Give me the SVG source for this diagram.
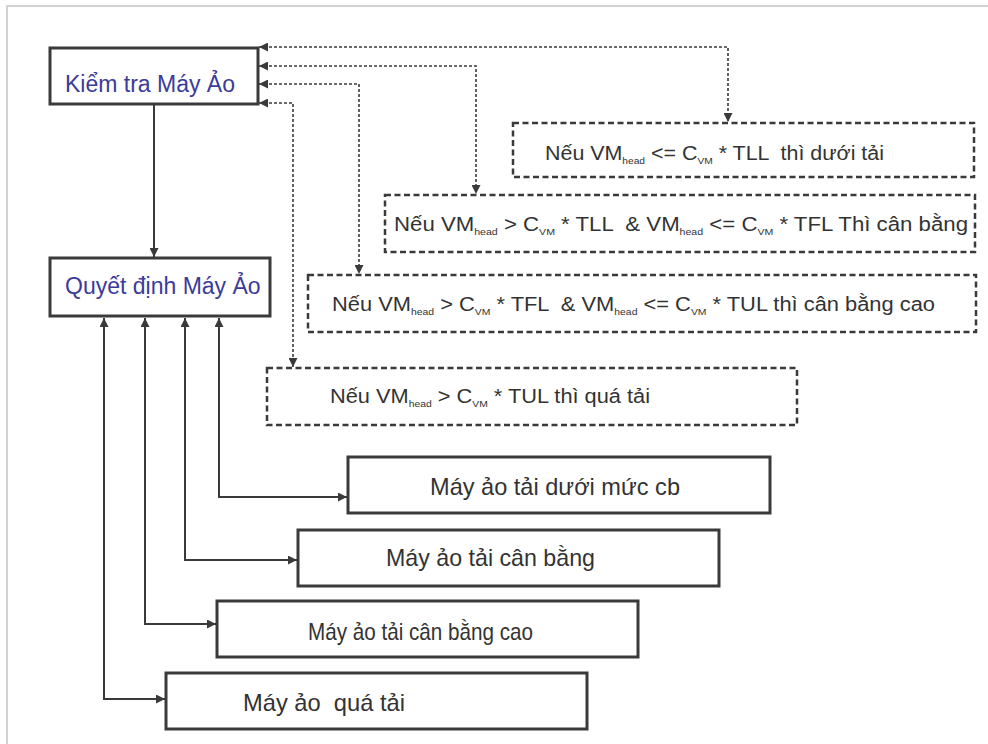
<svg xmlns="http://www.w3.org/2000/svg" width="988" height="744" viewBox="0 0 988 744">
  <style>
    .frame { fill: none; stroke: #c4c4c4; stroke-width: 1.5; }
    .main { fill: #ffffff; stroke: #3a3a3a; stroke-width: 3; }
    .cond { fill: #ffffff; stroke: #3a3a3a; stroke-width: 2.5; stroke-dasharray: 6 3.5; }
    .state { fill: #ffffff; stroke: #3a3a3a; stroke-width: 3; }
    .link { fill: none; stroke: #3a3a3a; stroke-width: 2; }
    .check { fill: none; stroke: #3a3a3a; stroke-width: 1.6; stroke-dasharray: 3 2; }
    .title { font-family: "Liberation Sans", Arial, sans-serif; font-size: 23px; fill: #3b3b9c; }
    .rule { font-family: "Liberation Sans", Arial, sans-serif; font-size: 20px; fill: #333333; white-space: pre; }
    .rule .sub { font-size: 9.5px; }
    .label { font-family: "Liberation Sans", Arial, sans-serif; font-size: 24px; fill: #333333; white-space: pre; }
  </style>
  <defs>
    <marker id="arrow" viewBox="0 0 10 10" refX="10" refY="5" markerWidth="10" markerHeight="9" markerUnits="userSpaceOnUse" orient="auto-start-reverse">
      <path d="M0,0 L10,5 L0,10 Z" fill="#3a3a3a"/>
    </marker>
  </defs>

  <rect width="988" height="744" fill="#ffffff"/>
  <path class="frame" d="M7,744 V6 H988"/>

  <!-- connectors -->
  <g id="connectors">
    <path class="link" d="M154,104 V257" marker-end="url(#arrow)"/>
    <path class="check" d="M259,47 H728 V122" marker-start="url(#arrow)" marker-end="url(#arrow)"/>
    <path class="check" d="M259,66 H476 V194" marker-start="url(#arrow)" marker-end="url(#arrow)"/>
    <path class="check" d="M259,84 H359 V274" marker-start="url(#arrow)" marker-end="url(#arrow)"/>
    <path class="check" d="M259,103 H293 V367" marker-start="url(#arrow)" marker-end="url(#arrow)"/>
    <path class="link" d="M219,318 V497 H347" marker-start="url(#arrow)" marker-end="url(#arrow)"/>
    <path class="link" d="M185,318 V560 H297" marker-start="url(#arrow)" marker-end="url(#arrow)"/>
    <path class="link" d="M145,318 V624 H216" marker-start="url(#arrow)" marker-end="url(#arrow)"/>
    <path class="link" d="M104,318 V699 H165" marker-start="url(#arrow)" marker-end="url(#arrow)"/>
  </g>

  <g id="kiem-tra">
    <rect class="main" x="50" y="48" width="208" height="56"/>
    <text class="title" x="65" y="92">Kiểm tra Máy Ảo</text>
  </g>

  <g id="quyet-dinh">
    <rect class="main" x="50" y="258" width="220" height="58"/>
    <text class="title" x="65" y="294">Quyết định Máy Ảo</text>
  </g>

  <g id="rule-under">
    <rect class="cond" x="513" y="123" width="461" height="54"/>
    <text class="rule" x="545" y="160" textLength="339" lengthAdjust="spacingAndGlyphs">Nếu VM<tspan class="sub" dy="4">head</tspan><tspan dy="-4"> &lt;= C</tspan><tspan class="sub" dy="4">VM</tspan><tspan dy="-4"> * TLL  thì dưới tải</tspan></text>
  </g>

  <g id="rule-balanced">
    <rect class="cond" x="385" y="195" width="590" height="57"/>
    <text class="rule" x="394" y="231" textLength="574" lengthAdjust="spacingAndGlyphs">Nếu VM<tspan class="sub" dy="4">head</tspan><tspan dy="-4"> &gt; C</tspan><tspan class="sub" dy="4">VM</tspan><tspan dy="-4"> * TLL  &amp; VM</tspan><tspan class="sub" dy="4">head</tspan><tspan dy="-4"> &lt;= C</tspan><tspan class="sub" dy="4">VM</tspan><tspan dy="-4"> * TFL Thì cân bằng</tspan></text>
  </g>

  <g id="rule-high">
    <rect class="cond" x="308" y="275" width="668" height="57"/>
    <text class="rule" x="332" y="311" textLength="603" lengthAdjust="spacingAndGlyphs">Nếu VM<tspan class="sub" dy="4">head</tspan><tspan dy="-4"> &gt; C</tspan><tspan class="sub" dy="4">VM</tspan><tspan dy="-4"> * TFL  &amp; VM</tspan><tspan class="sub" dy="4">head</tspan><tspan dy="-4"> &lt;= C</tspan><tspan class="sub" dy="4">VM</tspan><tspan dy="-4"> * TUL thì cân bằng cao</tspan></text>
  </g>

  <g id="rule-over">
    <rect class="cond" x="267" y="368" width="530" height="57"/>
    <text class="rule" x="330" y="403" textLength="320" lengthAdjust="spacingAndGlyphs">Nếu VM<tspan class="sub" dy="4">head</tspan><tspan dy="-4"> &gt; C</tspan><tspan class="sub" dy="4">VM</tspan><tspan dy="-4"> * TUL thì quá tải</tspan></text>
  </g>

  <g id="state-under">
    <rect class="state" x="348" y="457" width="422" height="56"/>
    <text class="label" x="430" y="495" textLength="250" lengthAdjust="spacingAndGlyphs">Máy ảo tải dưới mức cb</text>
  </g>

  <g id="state-balanced">
    <rect class="state" x="298" y="530" width="421" height="56"/>
    <text class="label" x="386" y="566" textLength="209" lengthAdjust="spacingAndGlyphs">Máy ảo tải cân bằng</text>
  </g>

  <g id="state-high">
    <rect class="state" x="217" y="601" width="421" height="56"/>
    <text class="label" x="308" y="640" textLength="225" lengthAdjust="spacingAndGlyphs">Máy ảo tải cân bằng cao</text>
  </g>

  <g id="state-over">
    <rect class="state" x="166" y="673" width="421" height="56"/>
    <text class="label" x="243" y="711" textLength="162" lengthAdjust="spacingAndGlyphs">Máy ảo  quá tải</text>
  </g>
</svg>
